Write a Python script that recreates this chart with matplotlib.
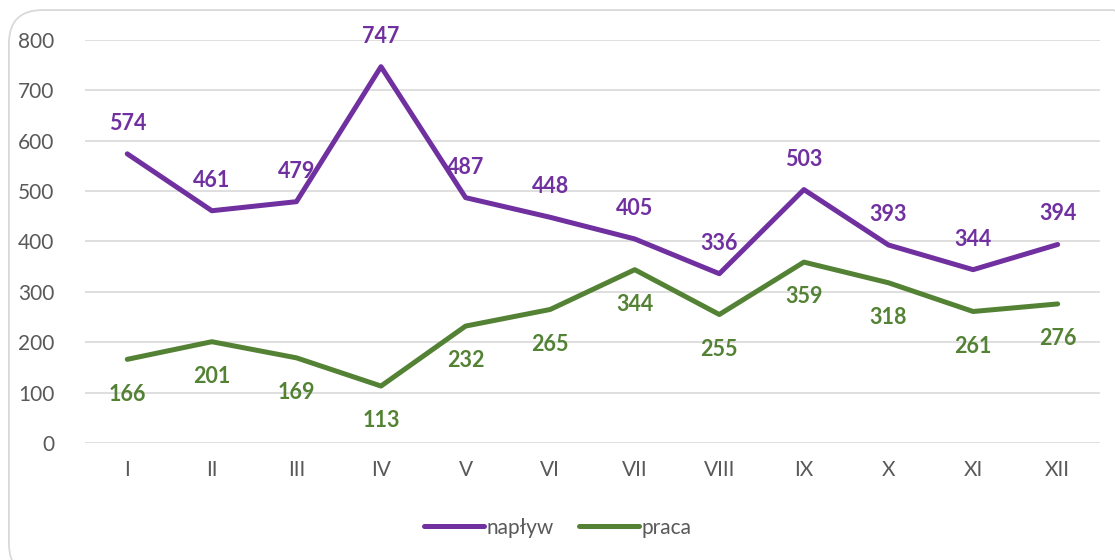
import matplotlib.pyplot as plt
from matplotlib.patches import FancyBboxPatch

months = ['I', 'II', 'III', 'IV', 'V', 'VI', 'VII', 'VIII', 'IX', 'X', 'XI', 'XII']
naplyw = [574, 461, 479, 747, 487, 448, 405, 336, 503, 393, 344, 394]
praca = [166, 201, 169, 113, 232, 265, 344, 255, 359, 318, 261, 276]

purple = '#7030A0'
green = '#548235'

plt.rcParams['font.family'] = ['Lato', 'DejaVu Sans']

fig = plt.figure(figsize=(11.15, 5.6), dpi=100)
ax = fig.add_axes([0.0762, 0.209, 0.9103, 0.7196])

# rounded frame, running off the right and bottom edges like the source
frame = FancyBboxPatch((0.008, -0.03), 1.02, 1.012, boxstyle='round,pad=0,rounding_size=0.03',
                       transform=fig.transFigure, facecolor='none', edgecolor='#d9d9d9',
                       linewidth=1.3, mutation_aspect=1.99, clip_on=False)
fig.patches.append(frame)

x = list(range(len(months)))
ax.plot(x, naplyw, color=purple, lw=3.6, solid_capstyle='round', label='napływ')
ax.plot(x, praca, color=green, lw=3.6, solid_capstyle='round', label='praca')

for i, v in enumerate(naplyw):
    ax.annotate(str(v), (i, v), xytext=(0, 22), textcoords='offset points',
                ha='center', va='center', color=purple, fontsize=15.5, fontweight='bold')
for i, v in enumerate(praca):
    ax.annotate(str(v), (i, v), xytext=(0, -25), textcoords='offset points',
                ha='center', va='center', color=green, fontsize=15.5, fontweight='bold')

ax.set_xlim(-0.5, 11.5)
ax.set_ylim(0, 800)
ax.set_yticks(range(0, 801, 100))
ax.set_xticks(x)
ax.set_xticklabels(months)
ax.grid(axis='y', color='#d9d9d9', lw=1.2)
ax.set_axisbelow(True)
for s in ax.spines.values():
    s.set_visible(False)
ax.tick_params(length=0, labelsize=15, labelcolor='#595959')
ax.tick_params(axis='x', pad=12)
ax.tick_params(axis='y', pad=22)

leg = fig.legend(loc='center', bbox_to_anchor=(0.5, 0.058), ncol=2, frameon=False,
                 fontsize=15, handlelength=2.9, columnspacing=1.2, handletextpad=0.1)
for t in leg.get_texts():
    t.set_color('#595959')

fig.savefig('out.png', dpi=100)
